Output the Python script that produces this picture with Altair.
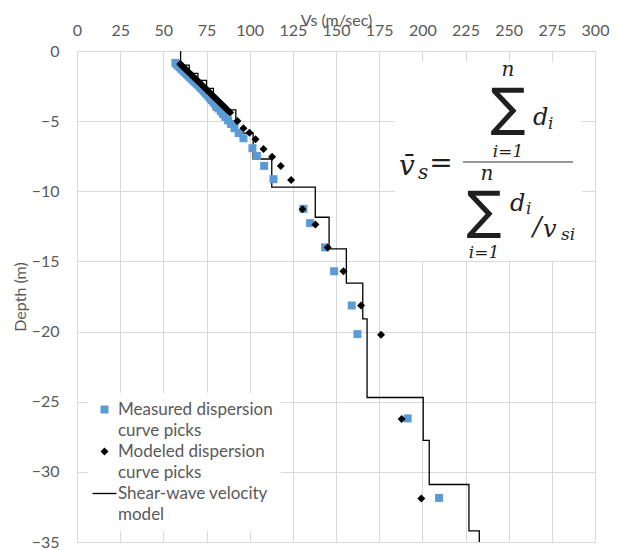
import altair as alt
import pandas as pd

# ---------------- data ----------------
vs_ticks = [0, 25, 50, 75, 100, 125, 150, 175, 200, 225, 250, 275, 300]
depth_ticks = [-35, -30, -25, -20, -15, -10, -5, 0]

meas_depth = [-0.85, -0.95, -1.05, -1.15, -1.25, -1.35, -1.45, -1.55, -1.65, -1.75,
              -1.85, -1.95, -2.05, -2.15, -2.25, -2.35, -2.45, -2.55, -2.65, -2.75,
              -2.85, -2.95, -3.05, -3.2, -3.35, -3.5, -3.65, -3.8, -3.95, -4.1,
              -4.3, -4.5, -4.7, -4.95, -5.2, -5.5, -5.85, -6.22, -6.93, -7.48,
              -8.19, -9.14, -11.25, -12.27, -14.0, -15.7, -18.14, -20.18, -26.19, -31.86]
meas_vs = [57.0, 57.8, 58.6, 59.5, 60.3, 61.2, 62.0, 62.8, 63.7, 64.5,
           65.4, 66.2, 67.0, 67.9, 68.7, 69.6, 70.4, 71.2, 72.0, 72.8,
           73.6, 74.3, 75.0, 76.0, 77.0, 78.0, 79.0, 80.0, 81.0, 82.0,
           83.3, 84.6, 85.9, 87.5, 89.2, 91.2, 93.6, 96.4, 101.6, 104.2,
           108.4, 113.8, 131.1, 135.0, 143.7, 148.9, 159.1, 162.4, 191.5, 209.7]

mod_depth = [-0.93, -1.0, -1.1, -1.2, -1.3, -1.4, -1.5, -1.6, -1.7, -1.8,
             -1.9, -2.0, -2.1, -2.2, -2.3, -2.4, -2.5, -2.6, -2.7, -2.8,
             -2.9, -3.0, -3.1, -3.2, -3.3, -3.4, -3.5, -3.6, -3.7, -3.8,
             -3.9, -4.0, -4.1, -4.2, -4.39, -4.99, -5.51, -5.82, -6.29, -6.98,
             -7.53, -8.19, -9.2, -11.28, -12.37, -14.0, -15.7, -18.14, -20.22, -26.23, -31.9]
mod_vs = [59.8, 60.4, 61.2, 62.0, 62.9, 63.7, 64.5, 65.4, 66.2, 67.1,
          67.9, 68.7, 69.6, 70.4, 71.3, 72.1, 72.9, 73.8, 74.6, 75.5,
          76.3, 77.1, 78.0, 78.8, 79.6, 80.5, 81.3, 82.1, 83.0, 83.8,
          84.6, 85.5, 86.3, 87.1, 88.7, 92.9, 96.4, 99.9, 103.4, 108.0,
          113.0, 118.0, 124.0, 130.6, 138.1, 145.2, 154.3, 164.5, 176.1, 188.0, 199.4]

layer_vs = [60, 65, 70, 75, 79, 92, 102, 112.8, 138, 146, 156, 165.5, 168, 200.5, 204, 227, 233]
layer_top = [0, -1.0, -1.6, -2.1, -2.66, -4.2, -5.86, -7.7, -9.7, -11.85, -14.1,
             -16.55, -19.1, -24.7, -27.75, -30.9, -34.2]
layer_bottom = layer_top[1:] + [-35]

S_MEAS = "Measured dispersion curve picks"
S_MOD = "Modeled dispersion curve picks"
S_MODEL = "Shear-wave velocity model"
series = [S_MEAS, S_MOD, S_MODEL]

# ---------------- tables ----------------
pts = pd.DataFrame({
    "vs": meas_vs + mod_vs,
    "depth": meas_depth + mod_depth,
    "series": [S_MEAS] * len(meas_vs) + [S_MOD] * len(mod_vs),
})
rows = []
k = 0
for v, t, b in zip(layer_vs, layer_top, layer_bottom):
    rows.append({"vs": v, "depth": t, "series": S_MODEL, "order": k}); k += 1
    rows.append({"vs": v, "depth": b, "series": S_MODEL, "order": k}); k += 1
line_df = pd.DataFrame(rows)

GRID = "#d9d9d9"
TXT = "#595959"
FONT = "Lato"
LINE_PATH = "M-3,-0.17L3,-0.17L3,0.17L-3,0.17Z"

legend = alt.Legend(
    title=None, orient="none", legendX=11, legendY=342, direction="vertical",
    fillColor="white", padding=8, labelFont=FONT, labelFontSize=17, labelColor=TXT,
    symbolSize=64, labelOffset=5, rowPadding=3, labelLimit=300,
    symbolStrokeWidth=0,
    labelExpr=("datum.value == '%s' ? ['Measured dispersion', 'curve picks'] : "
               "datum.value == '%s' ? ['Modeled dispersion', 'curve picks'] : "
               "['Shear-wave velocity', 'model']") % (S_MEAS, S_MOD),
)

color = alt.Color("series:N", scale=alt.Scale(domain=series, range=["#5b9bd5", "#000000", "#000000"]),
                  legend=legend)
shape = alt.Shape("series:N", scale=alt.Scale(domain=series, range=["square", "diamond", LINE_PATH]),
                  legend=legend)

x = alt.X("vs:Q", scale=alt.Scale(domain=[0, 300], nice=False, zero=False),
          axis=alt.Axis(orient="top", values=vs_ticks, title="Vs (m/sec)", grid=True,
                        gridColor=GRID, domainColor=GRID, ticks=False, labelFlush=False,
                        labelColor=TXT, labelFont=FONT, labelFontSize=16, labelPadding=13,
                        titleColor=TXT, titleFont=FONT, titleFontSize=16, titleFontWeight="normal",
                        titlePadding=-6))
y = alt.Y("depth:Q", scale=alt.Scale(domain=[-35, 0], nice=False, zero=False),
          axis=alt.Axis(values=depth_ticks, title="Depth (m)", grid=True,
                        gridColor=GRID, domainColor=GRID, ticks=False, labelFlush=False,
                        labelColor=TXT, labelFont=FONT, labelFontSize=16, labelPadding=18,
                        titleColor=TXT, titleFont=FONT, titleFontSize=16, titleFontWeight="normal",
                        titlePadding=3))

line = alt.Chart(line_df).mark_line(strokeWidth=1.3).encode(
    x=x, y=y, order="order:Q", color=color)
points = alt.Chart(pts).mark_point(filled=True, size=64, opacity=1).encode(
    x=x, y=y, color=color, shape=shape)

# ---------------- formula annotation (pixel positions in plot area) ----------------
one = pd.DataFrame({"a": [0]})

def txt(s, px, py, size, font="DejaVu Serif", style="italic", align="center"):
    return alt.Chart(one).mark_text(text=s, font=font, fontSize=size, fontStyle=style,
                                    align=align, baseline="alphabetic", color="#1f1f1f").encode(
        x=alt.value(px), y=alt.value(py))

box = alt.Chart(one).mark_rect(color="white").encode(
    x=alt.value(318), x2=alt.value(505), y=alt.value(11), y2=alt.value(210))
bar = alt.Chart(one).mark_rule(color="#333333", strokeWidth=1.2).encode(
    x=alt.value(386), x2=alt.value(496), y=alt.value(111))

formula = [
    box, bar,
    txt("n", 431, 25, 20),
    txt("\u2211", 431, 74, 52, font="DejaVu Sans", style="normal"),
    txt("d", 456, 74, 24, align="left"),
    txt("i", 471, 78, 17, align="left"),
    txt("i=1", 431, 106, 17),
    txt("v\u0304", 330, 124, 28),
    txt("s", 341, 128, 20, align="left"),
    txt("=", 364, 121, 28, style="normal"),
    txt("n", 410, 129, 20),
    txt("\u2211", 407, 177, 52, font="DejaVu Sans", style="normal"),
    txt("d", 433, 160, 24, align="left"),
    txt("i", 449, 163, 17, align="left"),
    txt("/", 460, 184, 26),
    txt("v", 466, 186, 24, align="left"),
    txt("si", 484, 189, 17, align="left"),
    txt("i=1", 407, 207, 17),
]

chart = alt.layer(line, points, *formula).properties(
    width=518, height=491,
    autosize=alt.AutoSizeParams(type="none"),
    padding={"left": 69, "top": 43, "right": 21, "bottom": 8},
).configure_view(stroke=None).configure(style={"guide-label": {"lineHeight": 21.3}})

chart.save("out.html", embed_options={"renderer": "svg", "actions": False})
